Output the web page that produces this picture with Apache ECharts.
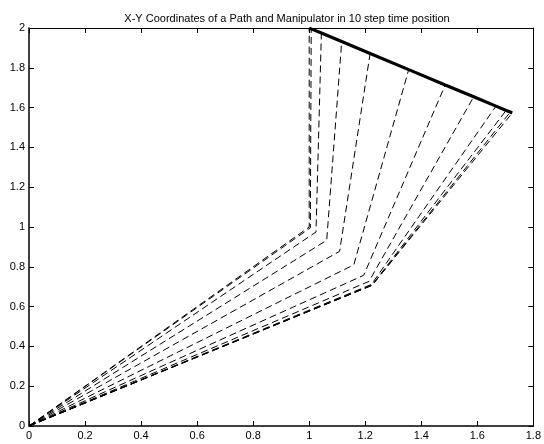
<!DOCTYPE html>
<html>
<head>
<meta charset="utf-8">
<script src="https://cdn.jsdelivr.net/npm/echarts@6/dist/echarts.min.js"></script>
<style>html,body{margin:0;padding:0;background:#fff}#c{width:544px;height:444px}</style>
</head>
<body>
<div id="c"></div>
<script>
var titleText = 'X-Y Coordinates of a Path and Manipulator in 10 step time position';
var xTicks = [0, 0.2, 0.4, 0.6, 0.8, 1, 1.2, 1.4, 1.6, 1.8];
var yTicks = [0, 0.2, 0.4, 0.6, 0.8, 1, 1.2, 1.4, 1.6, 1.8, 2];
var baseX = 0, baseY = 0;
var elbowX = [1.0000, 1.0041, 1.0243, 1.0625, 1.1085, 1.1592, 1.1946, 1.2133, 1.2222, 1.2244, 1.2246, 1.2247];
var elbowY = [1.0000, 0.9959, 0.9750, 0.9333, 0.8778, 0.8101, 0.7572, 0.7266, 0.7115, 0.7077, 0.7073, 0.7071];
var endX = [1.0000, 1.0072, 1.0435, 1.1160, 1.2174, 1.3551, 1.4855, 1.5870, 1.6667, 1.7030, 1.7175, 1.7247];
var endY = [2.0000, 1.9957, 1.9744, 1.9317, 1.8719, 1.7908, 1.7140, 1.6542, 1.6073, 1.5859, 1.5774, 1.5731];

var FONT = '"Liberation Sans", Arial, sans-serif';
var series = [];
for (var i = 0; i < elbowX.length; i++) {
  series.push({
    type: 'line', xAxisIndex: 0, yAxisIndex: 0, symbol: 'none', silent: true,
    data: [[baseX, baseY], [elbowX[i], elbowY[i]], [endX[i], endY[i]]],
    lineStyle: {color: '#000', width: 1, type: [7, 4]}
  });
}
var pathData = [];
for (var j = 0; j < endX.length; j++) pathData.push([endX[j], endY[j]]);
series.push({
  type: 'line', xAxisIndex: 0, yAxisIndex: 0, symbol: 'none', silent: true,
  data: pathData,
  lineStyle: {color: '#000', width: 3.2, type: 'solid'}
});

var xMin = xTicks[0], xMax = xTicks[xTicks.length - 1];
var yMin = yTicks[0], yMax = yTicks[yTicks.length - 1];
function axisBase(pos, showLabel, lw) {
  return {
    type: 'value', position: pos,
    splitLine: {show: false},
    axisLine: {show: true, onZero: false, lineStyle: {color: '#000', width: lw}},
    axisTick: {show: true, inside: true, length: 5, lineStyle: {color: '#000', width: 1}},
    axisLabel: {show: showLabel, color: '#000', fontFamily: FONT, fontSize: 11, margin: 4}
  };
}
var xb = axisBase('bottom', true, 1.5); xb.min = xMin; xb.max = xMax; xb.interval = 0.2;
var xt = axisBase('top', false, 1); xt.min = xMin; xt.max = xMax; xt.interval = 0.2;
var yl = axisBase('left', true, 1.5); yl.min = yMin; yl.max = yMax; yl.interval = 0.2;
var yr = axisBase('right', false, 1); yr.min = yMin; yr.max = yMax; yr.interval = 0.2;

var chart = echarts.init(document.getElementById('c'), null, {renderer: 'canvas'});
chart.setOption({
  animation: false,
  backgroundColor: '#fff',
  title: {
    text: titleText, left: 282, top: 8, textAlign: 'center',
    textStyle: {fontFamily: FONT, fontSize: 11, fontWeight: 'normal', color: '#000'}
  },
  grid: {left: 29, right: 10, top: 28, bottom: 18, containLabel: false},
  xAxis: [xb, xt],
  yAxis: [yl, yr],
  series: series
});
</script>
</body>
</html>
